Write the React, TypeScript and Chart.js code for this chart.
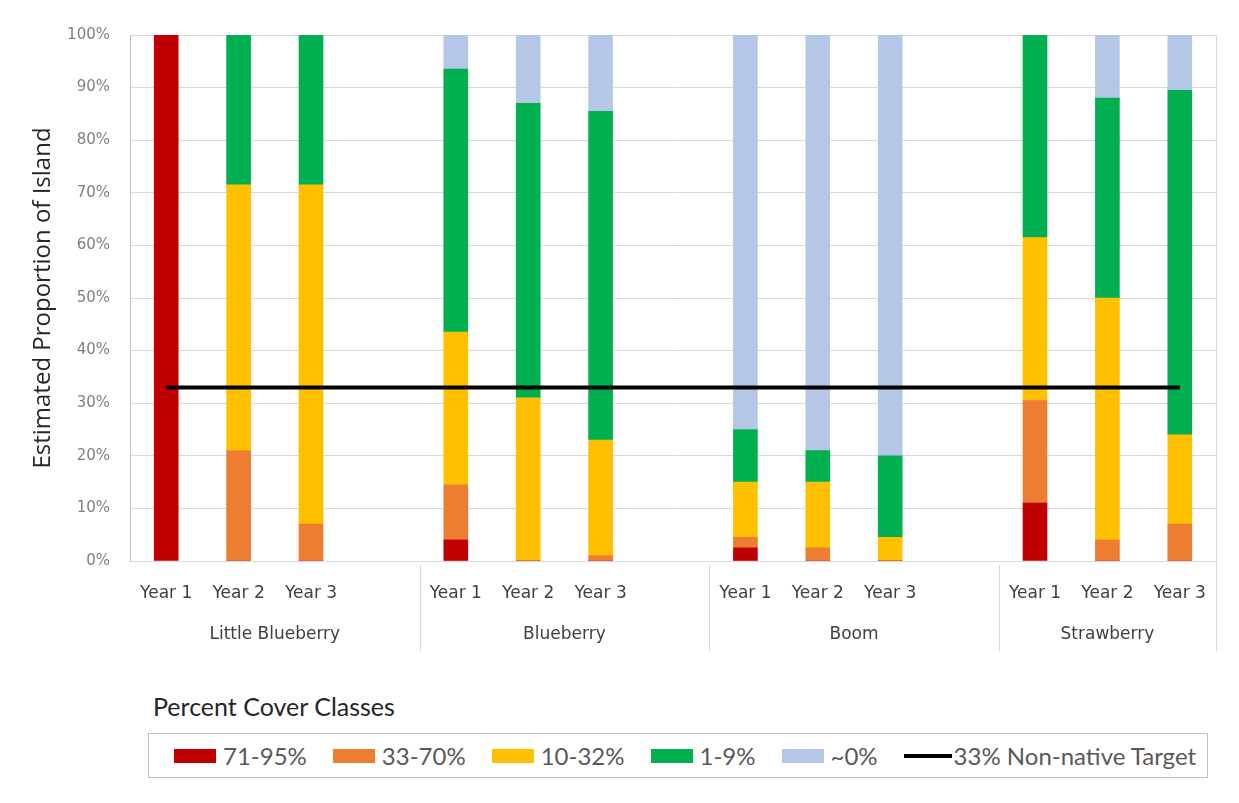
import React, { useEffect, useRef } from "react";
import { Chart, registerables } from "chart.js";

Chart.register(...registerables);

const categories = [
  "Year 1", "Year 2", "Year 3", "",
  "Year 1", "Year 2", "Year 3", "",
  "Year 1", "Year 2", "Year 3", "",
  "Year 1", "Year 2", "Year 3",
];
const islands = ["Little Blueberry", "Blueberry", "Boom", "Strawberry"];

const cover71to95 = [100, 0, 0, null, 4, 0, 0, null, 2.5, 0, 0, null, 11, 0, 0];
const cover33to70 = [0, 21, 7, null, 10.5, 0, 1, null, 2, 2.5, 0, null, 19.5, 4, 7];
const cover10to32 = [0, 50.5, 64.5, null, 29, 31, 22, null, 10.5, 12.5, 4.5, null, 31, 46, 17];
const cover1to9 = [0, 28.5, 28.5, null, 50, 56, 62.5, null, 10, 6, 15.5, null, 38.5, 38, 65.5];
const cover0 = [0, 0, 0, null, 6.5, 13, 14.5, null, 75, 79, 80, null, 0, 12, 10.5];
const targetLine = [33, 33, 33, 33, 33, 33, 33, 33, 33, 33, 33, 33, 33, 33, 33];

const yTicks = [0, 10, 20, 30, 40, 50, 60, 70, 80, 90, 100];

const series = [
  { label: "71-95%", data: cover71to95, color: "#C00000" },
  { label: "33-70%", data: cover33to70, color: "#ED7D31" },
  { label: "10-32%", data: cover10to32, color: "#FFC000" },
  { label: "1-9%", data: cover1to9, color: "#00B050" },
  { label: "~0%", data: cover0, color: "#B4C7E7" },
];
const lineLabel = "33% Non-native Target";

const groupPlugin = {
  id: "groupLabels",
  afterDraw(chart: any) {
    const ctx = chart.ctx;
    const x = chart.scales.x;
    const area = chart.chartArea;
    const half = (x.getPixelForValue(1) - x.getPixelForValue(0)) / 2;
    ctx.save();
    ctx.strokeStyle = "#d9d9d9";
    ctx.lineWidth = 1;
    ctx.beginPath();
    ctx.moveTo(Math.round(area.right) + 0.5, area.top);
    ctx.lineTo(Math.round(area.right) + 0.5, area.bottom + 90);
    ctx.stroke();
    const n = categories.length;
    const bounds = [0, 4, 8, 12, n];
    for (let g = 0; g < islands.length; g++) {
      const left = x.getPixelForValue(bounds[g]) - half;
      const right = x.getPixelForValue(bounds[g + 1] - 1) + half;
      if (g > 0) {
        ctx.beginPath();
        ctx.moveTo(Math.round(left) + 0.5, area.bottom + 4);
        ctx.lineTo(Math.round(left) + 0.5, area.bottom + 90);
        ctx.stroke();
      }
      ctx.fillStyle = "#404040";
      ctx.font = "17px 'DejaVu Sans'";
      ctx.textAlign = "center";
      ctx.textBaseline = "middle";
      ctx.fillText(islands[g], (left + right) / 2, area.bottom + 74);
    }
    ctx.restore();
  },
};

export default function App() {
  const ref = useRef<HTMLCanvasElement>(null);
  useEffect(() => {
    if (!ref.current) return;
    const datasets: any[] = [
      {
        type: "line",
        label: lineLabel,
        data: targetLine,
        borderColor: "#000000",
        borderWidth: 4,
        pointRadius: 0,
        fill: false,
        stack: "line",
        order: 0,
      },
      ...series.map((s) => ({
        type: "bar",
        label: s.label,
        data: s.data,
        backgroundColor: s.color,
        borderWidth: 0,
        barThickness: 24,
        order: 1,
      })),
    ];
    const chart = new Chart(ref.current, {
      type: "bar",
      data: { labels: categories, datasets },
      options: {
        animation: false,
        responsive: false,
        devicePixelRatio: 1,
        layout: { padding: { top: 35, right: 23, left: 0, bottom: 0 } },
        plugins: { legend: { display: false }, tooltip: { enabled: false } },
        scales: {
          x: {
            stacked: true,
            grid: { display: false, drawTicks: false },
            border: { display: true, color: "#d9d9d9" },
            ticks: {
              autoSkip: false,
              maxRotation: 0,
              padding: 22,
              color: "#404040",
              font: { family: "'DejaVu Sans'", size: 17 },
            },
            afterFit(scale: any) {
              scale.height = 119;
            },
          },
          y: {
            stacked: true,
            min: 0,
            max: 100,
            afterBuildTicks(scale: any) {
              scale.ticks = yTicks.map((v) => ({ value: v }));
            },
            grid: { color: "#d9d9d9", drawTicks: false },
            border: { display: true, color: "#bfbfbf" },
            ticks: {
              padding: 20,
              color: "#7f7f7f",
              font: { family: "'DejaVu Sans'", size: 15 },
              callback: (v: any) => v + "%",
            },
            title: {
              display: true,
              text: "Estimated Proportion of Island",
              color: "#262626",
              font: { family: "'Open Sans'", size: 24 },
              padding: { top: 29, bottom: 0 },
            },
            afterFit(scale: any) {
              scale.width = 130;
            },
          },
        },
      },
      plugins: [groupPlugin],
    } as any);
    return () => chart.destroy();
  }, []);

  const legendItems = [
    ...series.map((s) => ({ label: s.label, color: s.color, line: false })),
    { label: lineLabel, color: "#000000", line: true },
  ];

  return (
    <div style={{ position: "absolute", left: 0, top: 0, width: 1239, height: 803, background: "#fff" }}>
      <canvas ref={ref} width={1239} height={680} style={{ position: "absolute", left: 0, top: 0 }} />
      <div
        style={{
          position: "absolute",
          left: 153,
          top: 691,
          fontFamily: "Lato, sans-serif",
          fontSize: 25,
          lineHeight: "30px",
          color: "#262626",
        }}
      >
        Percent Cover Classes
      </div>
      <div
        style={{
          position: "absolute",
          left: 148,
          top: 733,
          width: 1060,
          height: 45,
          boxSizing: "border-box",
          border: "1px solid #bfbfbf",
          display: "flex",
          alignItems: "center",
          paddingLeft: 25,
          fontFamily: "Lato, sans-serif",
          fontSize: 24,
          color: "#595959",
          whiteSpace: "nowrap",
        }}
      >
        {legendItems.map((it, i) => (
          <div key={i} style={{ display: "flex", alignItems: "center", marginRight: i === 5 ? 0 : 26 }}>
            {it.line ? (
              <span style={{ display: "inline-block", width: 48, height: 4, background: it.color }} />
            ) : (
              <span style={{ display: "inline-block", width: 42, height: 14, background: it.color }} />
            )}
            <span style={{ marginLeft: it.line ? 2 : 7 }}>{it.label}</span>
          </div>
        ))}
      </div>
    </div>
  );
}
